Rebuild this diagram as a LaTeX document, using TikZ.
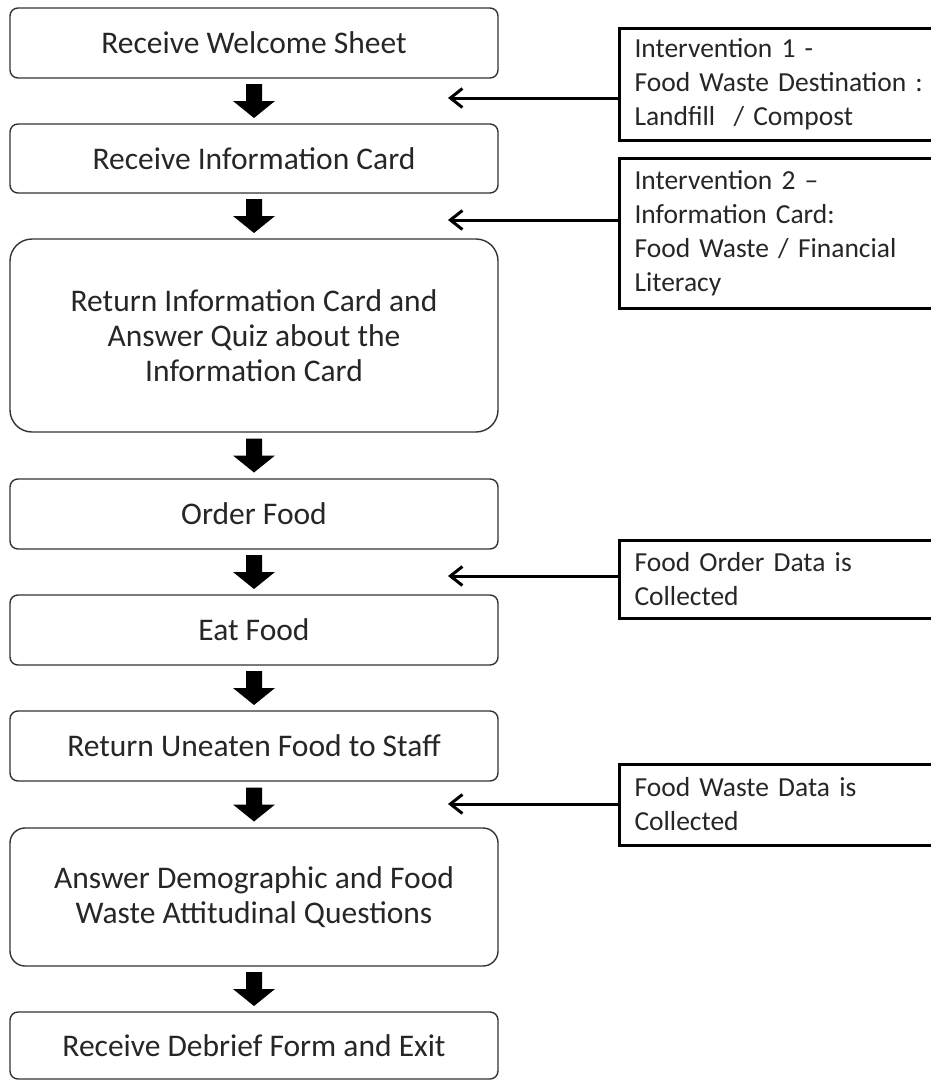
\documentclass[tikz,border=0pt]{standalone}
\usepackage{fontspec}
\setmainfont{Carlito}
\usetikzlibrary{arrows.meta,calc}
\newcommand\blk[2]{%
  \coordinate (m#1) at ($(#1.south)!0.5!(#2.north)$);
  \fill[black] (m#1) ++(-8,-17) -- ++(16,0) -- ++(0,17) -- ++(13,0) -- ++(-21,17) -- ++(-21,-17) -- ++(13,0) -- cycle;}
\begin{document}
\begin{tikzpicture}[x=1pt,y=-1pt,
  stepbox/.style={draw=black!80, line width=1.4pt, rounded corners=8pt, minimum width=488pt,
    text=black!85, font=\fontsize{31.5}{35}\selectfont, align=center, inner sep=0pt},
  notebox/.style={draw=black, line width=3pt, anchor=west, text width=292pt, inner xsep=15pt,
    inner ysep=0pt, align=left, text=black!85, font=\fontsize{27.5}{34}\selectfont},
  sidearrow/.style={line width=3pt, -{Straight Barb[length=12pt,width=19pt]}}]
\useasboundingbox (0,0) rectangle (931,1082);

\node[stepbox, minimum height=70pt] (b1) at (254,43) {Receive Welcome Sheet};
\node[stepbox, minimum height=69pt] (b2) at (254,158.5) {Receive Information Card};
\node[stepbox, minimum height=193pt, rounded corners=22pt] (b3) at (254,335.5) {Return Information Card and\\Answer Quiz about the\\Information Card};
\node[stepbox, minimum height=70pt] (b4) at (254,514) {Order Food};
\node[stepbox, minimum height=70pt] (b5) at (254,630) {Eat Food};
\node[stepbox, minimum height=70pt] (b6) at (254,746) {Return Uneaten Food to Staff};
\node[stepbox, minimum height=138pt, rounded corners=15pt] (b7) at (254,897) {Answer Demographic and Food\\Waste Attitudinal Questions};
\node[stepbox, minimum height=67pt] (b8) at (254,1045.5) {Receive Debrief Form and Exit};

\blk{b1}{b2}
\blk{b2}{b3}
\blk{b3}{b4}
\blk{b4}{b5}
\blk{b5}{b6}
\blk{b6}{b7}
\blk{b7}{b8}

\node[notebox, minimum height=112pt] (r1) at (618,84) {Intervention 1 -\\Food Waste Destination :\\Landfill~ / Compost};
\node[notebox, minimum height=150pt] (r2) at (618,233) {Intervention 2 –\\Information Card:\\Food Waste / Financial\\Literacy};
\node[notebox, minimum height=78pt] (r3) at (618,579) {Food Order Data is\\Collected};
\node[notebox, minimum height=81pt] (r4) at (618,804.5) {Food Waste Data is\\Collected};

\coordinate (e1) at (448,98);
\coordinate (e2) at (448,220);
\coordinate (e3) at (448,576);
\coordinate (e4) at (448,804);
\draw[sidearrow] (r1.west |- e1) -- (e1);
\draw[sidearrow] (r2.west |- e2) -- (e2);
\draw[sidearrow] (r3.west |- e3) -- (e3);
\draw[sidearrow] (r4.west |- e4) -- (e4);
\end{tikzpicture}
\end{document}
